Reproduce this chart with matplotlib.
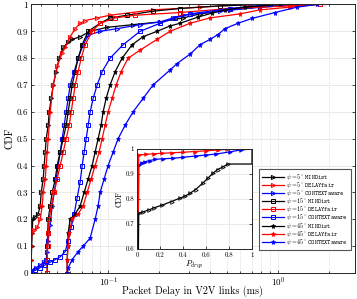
import matplotlib
matplotlib.use('Agg')
import matplotlib.pyplot as plt
from matplotlib.ticker import LogLocator, NullFormatter

plt.rcParams['font.family'] = 'serif'
plt.rcParams['font.serif'] = ['cmr10']
plt.rcParams['mathtext.fontset'] = 'cm'
plt.rcParams['axes.formatter.use_mathtext'] = True

# delay (ms) and CDF
min5_x = [0.03526, 0.03526, 0.03548, 0.03572, 0.03596, 0.0372, 0.03875, 0.03981, 0.04036, 0.04147,
          0.04203, 0.04261, 0.04319, 0.04438, 0.04498, 0.04622, 0.04749, 0.04946, 0.0515, 0.05437,
          0.05818, 0.06142, 0.06845, 0.07838, 0.09865, 0.1403, 0.2022, 0.2762, 0.3477, 0.522, 0.7838, 1.3471]
min5_y = [0, 0.05, 0.1, 0.15, 0.2, 0.21, 0.22, 0.25, 0.3, 0.35,
          0.4, 0.45, 0.5, 0.55, 0.6, 0.65, 0.7, 0.75, 0.8, 0.84,
          0.86, 0.87, 0.88, 0.9, 0.915, 0.925, 0.935, 0.95, 0.965, 0.98, 0.99, 1.0]

del5_x = [0.03526, 0.03526, 0.03526, 0.03548, 0.0367, 0.03823, 0.03981, 0.04091, 0.04147, 0.04261,
          0.04319, 0.04378, 0.04438, 0.0456, 0.04749, 0.05012, 0.05363, 0.05586, 0.05978, 0.06397,
          0.06845, 0.07325, 0.08614, 0.1027, 0.1839, 0.3477, 0.6845]
del5_y = [0, 0.05, 0.1, 0.15, 0.16, 0.17, 0.2, 0.25, 0.3, 0.35,
          0.4, 0.45, 0.5, 0.6, 0.7, 0.77, 0.82, 0.84, 0.88, 0.91,
          0.93, 0.94, 0.95, 0.96, 0.98, 0.99, 1.0]

ctx5_x = [0.03477, 0.03572, 0.03771, 0.03981, 0.04203, 0.04319, 0.04378, 0.04438, 0.0456, 0.04685,
          0.04814, 0.04946, 0.05081, 0.0522, 0.05363, 0.05511, 0.05662, 0.05818, 0.05978, 0.0631,
          0.06662, 0.07129, 0.07629, 0.08972, 0.113, 0.1542, 0.2022, 0.2412, 0.2762, 0.456, 0.7838, 1.3471]
ctx5_y = [0, 0.01, 0.02, 0.03, 0.04, 0.05, 0.08, 0.12, 0.18, 0.25,
          0.3, 0.35, 0.4, 0.45, 0.5, 0.55, 0.6, 0.65, 0.7, 0.75,
          0.8, 0.85, 0.885, 0.9, 0.91, 0.925, 0.935, 0.95, 0.96, 0.975, 0.99, 1.0]

min15_x = [0.04378, 0.04378, 0.04378, 0.04408, 0.04438, 0.0456, 0.04685, 0.0488, 0.05012, 0.0522,
           0.05437, 0.05662, 0.05818, 0.05978, 0.06142, 0.06397, 0.06662, 0.07033, 0.07629, 0.08972,
           0.1027, 0.1294, 0.1839, 0.2652, 0.456, 0.7838]
min15_y = [0, 0.05, 0.1, 0.15, 0.2, 0.25, 0.3, 0.35, 0.4, 0.45,
           0.5, 0.55, 0.6, 0.65, 0.7, 0.75, 0.8, 0.85, 0.9, 0.93,
           0.95, 0.96, 0.975, 0.985, 0.995, 1.0]

del15_x = [0.04378, 0.04378, 0.04408, 0.04438, 0.04498, 0.04622, 0.04814, 0.05012, 0.0522, 0.05437,
           0.05662, 0.05898, 0.0606, 0.06226, 0.06397, 0.06662, 0.06939, 0.07325, 0.08052, 0.08972,
           0.11, 0.1441, 0.2652, 0.522, 1.1764, 1.766]
del15_y = [0, 0.05, 0.1, 0.15, 0.2, 0.25, 0.3, 0.35, 0.4, 0.45,
           0.5, 0.55, 0.6, 0.65, 0.7, 0.75, 0.8, 0.85, 0.9, 0.93,
           0.95, 0.96, 0.97, 0.985, 0.995, 1.0]

ctx15_x = [0.03477, 0.0372, 0.03981, 0.04261, 0.0456, 0.0488, 0.0522, 0.05586, 0.05818, 0.0606,
           0.0631, 0.06572, 0.06845, 0.07033, 0.07227, 0.07425, 0.07629, 0.07838, 0.08163, 0.08614,
           0.09219, 0.1027, 0.1225, 0.1542, 0.2022, 0.2478, 0.3037, 0.522, 0.8972]
ctx15_y = [0, 0.01, 0.02, 0.03, 0.04, 0.05, 0.06, 0.08, 0.12, 0.17,
           0.22, 0.28, 0.34, 0.4, 0.45, 0.5, 0.55, 0.6, 0.65, 0.7,
           0.75, 0.8, 0.85, 0.9, 0.93, 0.95, 0.965, 0.985, 1.0]

min45_x = [0.0574, 0.0574, 0.05779, 0.05818, 0.05978, 0.06397, 0.06845, 0.07227, 0.07629, 0.08052,
           0.08384, 0.08732, 0.09095, 0.09345, 0.09733, 0.1027, 0.11, 0.1209, 0.1384, 0.1606,
           0.1942, 0.2316, 0.2652, 0.3383, 0.4091, 0.488, 0.6397, 1.0275]
min45_y = [0, 0.05, 0.1, 0.15, 0.2, 0.22, 0.25, 0.3, 0.35, 0.4,
           0.45, 0.5, 0.55, 0.6, 0.65, 0.7, 0.75, 0.8, 0.85, 0.88,
           0.9, 0.92, 0.93, 0.953, 0.968, 0.98, 0.99, 1.0]

del45_x = [0.0574, 0.0574, 0.05818, 0.05898, 0.06142, 0.06662, 0.07129, 0.07527, 0.07943, 0.08384,
           0.08851, 0.09219, 0.09602, 0.1, 0.1056, 0.1115, 0.1193, 0.1311, 0.1542, 0.1942,
           0.2316, 0.3037, 0.3981, 0.5978, 0.7838, 1.1764, 1.696]
del45_y = [0, 0.05, 0.1, 0.15, 0.2, 0.22, 0.25, 0.3, 0.35, 0.4,
           0.45, 0.5, 0.55, 0.6, 0.65, 0.7, 0.75, 0.8, 0.83, 0.87,
           0.9, 0.93, 0.95, 0.965, 0.98, 0.99, 1.0]

ctx45_x = [0.0574, 0.05818, 0.06142, 0.06662, 0.07129, 0.07838, 0.08384, 0.08732, 0.08972, 0.09473,
           0.1, 0.107, 0.1145, 0.1259, 0.1403, 0.1606, 0.1839, 0.2316, 0.2546, 0.3037,
           0.3477, 0.3981, 0.4436, 0.488, 0.5818, 0.7033, 0.9602, 1.2937, 1.696]
ctx45_y = [0, 0.02, 0.05, 0.08, 0.1, 0.13, 0.2, 0.25, 0.3, 0.35,
           0.4, 0.45, 0.5, 0.55, 0.6, 0.65, 0.7, 0.756, 0.78, 0.815,
           0.85, 0.87, 0.888, 0.91, 0.93, 0.948, 0.97, 0.99, 1.0]

# inset: CDF of P_drop for psi = 5 deg
pd_min_x = [0, 0.015, 0.05, 0.10, 0.15, 0.22, 0.30, 0.37, 0.42, 0.46, 0.51, 0.57, 0.62, 0.66, 0.70, 0.75, 0.79, 1.0, 1.0]
pd_min_y = [0, 0.743, 0.748, 0.756, 0.765, 0.776, 0.79, 0.803, 0.812, 0.823, 0.838, 0.863, 0.885, 0.903, 0.918, 0.929, 0.94, 0.94, 1.0]
pd_del_x = [0, 0.015, 0.08, 0.15, 0.22, 0.3, 0.4, 0.5, 0.6, 0.7, 0.78, 1.0]
pd_del_y = [0, 0.976, 0.979, 0.981, 0.983, 0.985, 0.987, 0.99, 0.993, 0.996, 0.999, 1.0]
pd_ctx_x = [0, 0.015, 0.04, 0.07, 0.11, 0.16, 0.23, 0.31, 0.40, 0.51, 0.6, 0.69, 0.81, 0.9, 1.0]
pd_ctx_y = [0, 0.936, 0.944, 0.949, 0.954, 0.959, 0.961, 0.963, 0.967, 0.972, 0.976, 0.98, 0.989, 0.996, 1.0]

series = [
    (min5_x, min5_y, 'k', '>', r'$\psi=5^{\circ}$ $\mathtt{MINDist}$'),
    (del5_x, del5_y, 'r', '>', r'$\psi=5^{\circ}$ $\mathtt{DELAYfair}$'),
    (ctx5_x, ctx5_y, 'b', '>', r'$\psi=5^{\circ}$ $\mathtt{CONTEXTaware}$'),
    (min15_x, min15_y, 'k', 's', r'$\psi=15^{\circ}$ $\mathtt{MINDist}$'),
    (del15_x, del15_y, 'r', 's', r'$\psi=15^{\circ}$ $\mathtt{DELAYfair}$'),
    (ctx15_x, ctx15_y, 'b', 's', r'$\psi=15^{\circ}$ $\mathtt{CONTEXTaware}$'),
    (min45_x, min45_y, 'k', '*', r'$\psi=45^{\circ}$ $\mathtt{MINDist}$'),
    (del45_x, del45_y, 'r', '*', r'$\psi=45^{\circ}$ $\mathtt{DELAYfair}$'),
    (ctx45_x, ctx45_y, 'b', '*', r'$\psi=45^{\circ}$ $\mathtt{CONTEXTaware}$'),
]

fig = plt.figure(figsize=(3.57, 2.99), dpi=100)
ax = fig.add_axes([0.086, 0.087, 0.908, 0.898])

for x, y, c, m, lab in series:
    if m == '*':
        ax.plot(x, y, color=c, marker=m, ms=3.6, mew=0.5, lw=0.9, label=lab)
    else:
        ax.plot(x, y, color=c, marker=m, ms=3.0, mew=0.7, mfc='none', lw=0.9, label=lab)

ax.set_xscale('log')
ax.set_xlim(0.035, 2.84)
ax.set_ylim(0, 1)
ax.set_yticks([0, 0.1, 0.2, 0.3, 0.4, 0.5, 0.6, 0.7, 0.8, 0.9, 1])
ax.set_yticklabels(['0', '0.1', '0.2', '0.3', '0.4', '0.5', '0.6', '0.7', '0.8', '0.9', '1'])
ax.xaxis.set_minor_locator(LogLocator(base=10, subs=range(2, 10)))
ax.xaxis.set_minor_formatter(NullFormatter())
ax.tick_params(which='both', direction='in', top=True, right=True, labelsize=6.5, length=2.5,
               width=0.5, pad=2)
ax.tick_params(which='minor', length=1.5)
ax.grid(True, axis='y', color='#e6e6e6', lw=0.6)
ax.grid(True, axis='x', which='both', color='#c8c8c8', lw=0.5, ls=':')
ax.set_axisbelow(True)
for s in ax.spines.values():
    s.set_linewidth(0.7)
    s.set_color('#262626')
ax.set_xlabel('Packet Delay in V2V links (ms)', fontsize=7.2)
ax.xaxis.set_label_coords(0.5, -0.047)
ax.set_ylabel('CDF', fontsize=7.2, labelpad=1)

leg = ax.legend(loc='lower right', bbox_to_anchor=(0.988, 0.0857), borderaxespad=0,
                fontsize=4.4, handlelength=3.5, handleheight=0.5, labelspacing=-0.3,
                borderpad=0.5, handletextpad=0.4, fancybox=False, framealpha=1,
                edgecolor='#555555')
leg.get_frame().set_linewidth(0.8)

# inset
ins = fig.add_axes([0.3838, 0.1672, 0.3221, 0.3344])
ins.plot(pd_ctx_x, pd_ctx_y, color='b', marker='>', ms=2.6, mew=0.5, lw=0.9,
         markevery=slice(1, -1))
ins.plot(pd_del_x, pd_del_y, color='r', marker='>', ms=2.6, mew=0.5, lw=0.9,
         markevery=slice(1, -1))
ins.plot(pd_min_x, pd_min_y, color='k', marker='>', ms=2.6, mew=0.6, mfc='none', lw=0.9,
         markevery=slice(1, -2))
ins.set_xlim(0, 1)
ins.set_ylim(0.6, 1)
ins.set_xticks([0, 0.2, 0.4, 0.6, 0.8, 1])
ins.set_xticklabels(['0', '0.2', '0.4', '0.6', '0.8', '1'])
ins.set_yticks([0.6, 0.7, 0.8, 0.9, 1])
ins.set_yticklabels(['0.6', '0.7', '0.8', '0.9', '1'])
ins.tick_params(direction='in', top=True, right=True, labelsize=5, length=2, width=0.5, pad=2)
ins.grid(True, color='#e6e6e6', lw=0.6)
ins.set_axisbelow(True)
for s in ins.spines.values():
    s.set_linewidth(0.7)
    s.set_color('#262626')
ins.set_xlabel('$P_{drop}$', fontsize=6, labelpad=1)
ins.set_ylabel('CDF', fontsize=5.5, labelpad=1)

fig.savefig('out.png', dpi=100)
